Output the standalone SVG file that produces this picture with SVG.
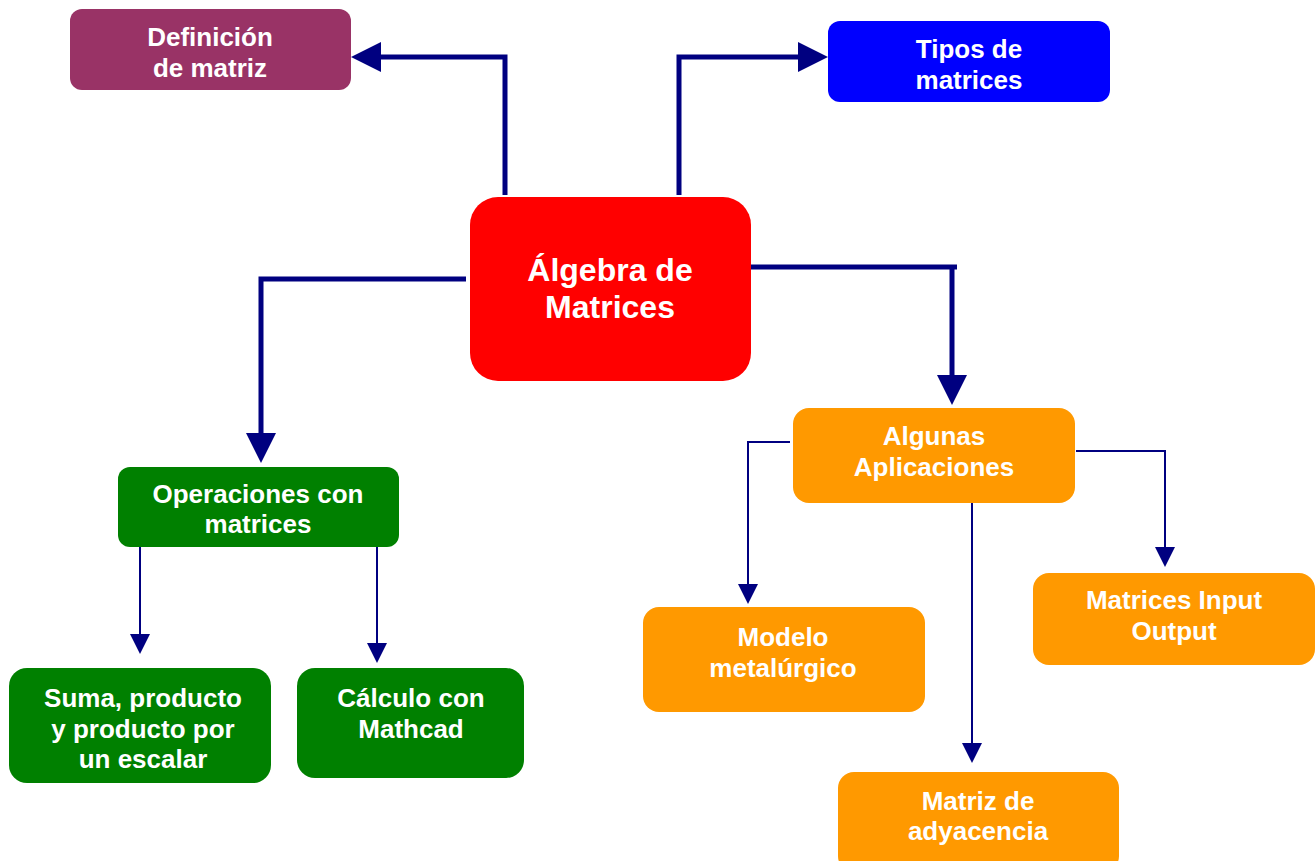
<svg xmlns="http://www.w3.org/2000/svg" width="1316" height="861" viewBox="0 0 1316 861">
<style>
.t{font-family:"Liberation Sans",Arial,sans-serif;font-weight:bold;fill:#fff;text-anchor:middle;font-size:26px}
.big{font-size:32px}
.thick{fill:none;stroke:#000080;stroke-width:5}
.thin{fill:none;stroke:#000080;stroke-width:2}
</style>
<defs>
<marker id="ah" markerUnits="userSpaceOnUse" viewBox="0 0 30 30" refX="0" refY="15" markerWidth="30" markerHeight="30" orient="auto"><path d="M0,0 L30,15 L0,30 Z" fill="#000080"/></marker>
<marker id="as" markerUnits="userSpaceOnUse" viewBox="0 0 20 20" refX="0" refY="10" markerWidth="20" markerHeight="20" orient="auto"><path d="M0,0 L20,10 L0,20 Z" fill="#000080"/></marker>
</defs>
<rect width="1316" height="861" fill="#fff"/>
<g id="connectors">
<path class="thick" d="M505,195 V57 H381" marker-end="url(#ah)"/>
<path class="thick" d="M679,195 V57 H798" marker-end="url(#ah)"/>
<path class="thick" d="M751,267 H957 M952,267 V375" marker-end="url(#ah)"/>
<path class="thick" d="M466,279 H261 V433" marker-end="url(#ah)"/>
<path class="thin" d="M140,547 V634" marker-end="url(#as)"/>
<path class="thin" d="M377,547 V643" marker-end="url(#as)"/>
<path class="thin" d="M790,442 H748 V584" marker-end="url(#as)"/>
<path class="thin" d="M1076,451 H1165 V547" marker-end="url(#as)"/>
<path class="thin" d="M972,503 V743" marker-end="url(#as)"/>
</g>
<g id="definicion">
<rect x="70" y="9" width="281" height="81" rx="12" fill="#993366"/>
<text class="t" x="210" y="46">Definición</text>
<text class="t" x="210" y="77">de matriz</text>
</g>
<g id="tipos">
<rect x="828" y="21" width="282" height="81" rx="12" fill="#0000FF"/>
<text class="t" x="969" y="58">Tipos de</text>
<text class="t" x="969" y="89">matrices</text>
</g>
<g id="algebra">
<rect x="470" y="197" width="281" height="184" rx="28" fill="#FF0000"/>
<text class="t big" x="610" y="281">Álgebra de</text>
<text class="t big" x="610" y="318">Matrices</text>
</g>
<g id="operaciones">
<rect x="118" y="467" width="281" height="80" rx="12" fill="#008000"/>
<text class="t" x="258" y="503">Operaciones con</text>
<text class="t" x="258" y="533">matrices</text>
</g>
<g id="suma">
<rect x="9" y="668" width="262" height="115" rx="18" fill="#008000"/>
<text class="t" x="143" y="707">Suma, producto</text>
<text class="t" x="143" y="738">y producto por</text>
<text class="t" x="143" y="768">un escalar</text>
</g>
<g id="calculo">
<rect x="297" y="668" width="227" height="110" rx="18" fill="#008000"/>
<text class="t" x="411" y="707">Cálculo con</text>
<text class="t" x="411" y="738">Mathcad</text>
</g>
<g id="aplicaciones">
<rect x="793" y="408" width="282" height="95" rx="16" fill="#FF9900"/>
<text class="t" x="934" y="445">Algunas</text>
<text class="t" x="934" y="476">Aplicaciones</text>
</g>
<g id="modelo">
<rect x="643" y="607" width="282" height="105" rx="16" fill="#FF9900"/>
<text class="t" x="783" y="646">Modelo</text>
<text class="t" x="783" y="677">metalúrgico</text>
</g>
<g id="input-output">
<rect x="1033" y="573" width="282" height="92" rx="16" fill="#FF9900"/>
<text class="t" x="1174" y="609">Matrices Input</text>
<text class="t" x="1174" y="640">Output</text>
</g>
<g id="adyacencia">
<rect x="838" y="772" width="281" height="100" rx="16" fill="#FF9900"/>
<text class="t" x="978" y="810">Matriz de</text>
<text class="t" x="978" y="840">adyacencia</text>
</g>
</svg>
